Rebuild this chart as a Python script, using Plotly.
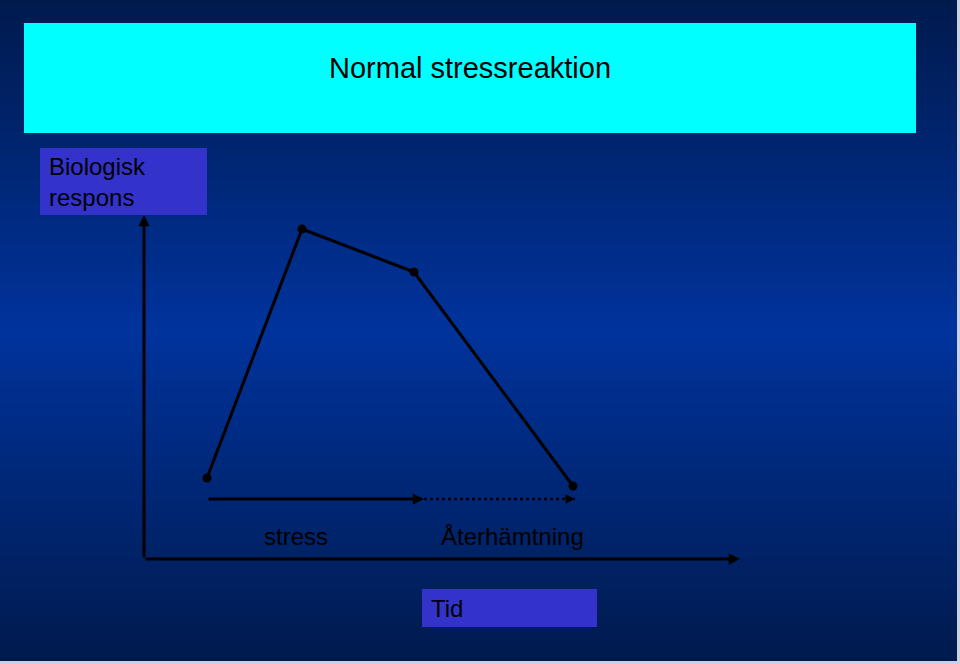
import plotly.graph_objects as go

# ---- data (arbitrary units) ----
phase_time = [6.3, 15.8, 27.0, 42.9]        # time of the four points
response = [8.1, 33.0, 28.7, 7.3]            # biological response
axis_x_end = 59.6                            # end of time axis arrow
axis_y_end = 34.4                            # end of response axis arrow
stress_span = [6.3, 28.0]                    # stress phase arrow
recovery_span = [28.0, 43.1]                 # recovery phase arrow
phase_arrow_level = 6.0
phase_labels = ["stress", "Återhämtning"]
phase_label_x = [15.2, 36.8]
phase_label_y = 2.3
title_text = "Normal stressreaktion"
y_label = "Biologisk<br>respons"
x_label = "Tid"

W, H = 960, 664
X0, Y0, SCALE = 144, 559, 10.0   # pixel origin of axes, px per unit


def px(x):
    return x / W


def py(y):
    return 1 - y / H


fig = go.Figure()

# main curve
fig.add_trace(go.Scatter(
    x=phase_time, y=response, mode="lines+markers",
    line=dict(color="black", width=3),
    marker=dict(color="black", size=9),
    hoverinfo="skip", showlegend=False))

# dotted recovery line
fig.add_trace(go.Scatter(
    x=recovery_span, y=[phase_arrow_level] * 2, mode="lines",
    line=dict(color="black", width=2.5, dash="dot"),
    hoverinfo="skip", showlegend=False))

shapes = []
# background gradient
top = (0, 26, 77)
mid = (0, 51, 156)
n = 166
for i in range(n):
    t = (i + 0.5) / n
    f = 1 - abs(t - 0.5) * 2
    c = tuple(top[k] + (mid[k] - top[k]) * f for k in range(3))
    y_a = 661 * i / n
    y_b = min(661, 661 * (i + 1) / n + 3)
    shapes.append(dict(type="rect", xref="paper", yref="paper",
                       x0=0, x1=px(957), y0=py(y_b), y1=py(y_a),
                       line=dict(width=0),
                       fillcolor="rgb(%.1f,%.1f,%.1f)" % c,
                       layer="below"))
# title box
shapes.append(dict(type="rect", xref="paper", yref="paper",
                   x0=px(24), x1=px(916), y0=py(133), y1=py(23),
                   line=dict(width=0), fillcolor="#00ffff", layer="below"))
# label boxes
shapes.append(dict(type="rect", xref="paper", yref="paper",
                   x0=px(40), x1=px(207), y0=py(215), y1=py(148),
                   line=dict(width=0), fillcolor="#3333cc", layer="below"))
shapes.append(dict(type="rect", xref="paper", yref="paper",
                   x0=px(422), x1=px(597), y0=py(627), y1=py(589),
                   line=dict(width=0), fillcolor="#3333cc", layer="below"))

font = dict(family="Liberation Sans, Arial, sans-serif", color="black")
ann = []
ann.append(dict(xref="paper", yref="paper", x=px(470), y=py(68),
                text=title_text, showarrow=False,
                font=dict(size=29, **font), xanchor="center", yanchor="middle"))
ann.append(dict(xref="paper", yref="paper", x=px(47), y=py(182),
                text=y_label, showarrow=False, align="left",
                font=dict(size=24, **font), xanchor="left", yanchor="middle"))
ann.append(dict(xref="paper", yref="paper", x=px(429), y=py(608),
                text=x_label, showarrow=False, align="left",
                font=dict(size=24, **font), xanchor="left", yanchor="middle"))
for lab, lx in zip(phase_labels, phase_label_x):
    ann.append(dict(x=lx, y=phase_label_y, text=lab, showarrow=False,
                    font=dict(size=24, **font), xanchor="center", yanchor="middle"))

arrow_common = dict(text="", showarrow=True, axref="x", ayref="y",
                    arrowhead=2, arrowsize=0.75, arrowcolor="black",
                    standoff=0, startstandoff=0)
# axes arrows
ann.append(dict(x=0, y=axis_y_end, ax=0, ay=0, arrowwidth=3, **arrow_common))
ann.append(dict(x=axis_x_end, y=0, ax=0, ay=0, arrowwidth=3, **arrow_common))
# stress arrow (solid)
ann.append(dict(x=stress_span[1], y=phase_arrow_level, ax=stress_span[0],
                ay=phase_arrow_level, arrowwidth=3, **arrow_common))
# recovery arrowhead
ann.append(dict(x=recovery_span[1], y=phase_arrow_level,
                ax=recovery_span[1] - 1.0, ay=phase_arrow_level,
                arrowwidth=2.5, **arrow_common))

fig.update_layout(
    width=W, height=H, margin=dict(l=0, r=0, t=0, b=0),
    paper_bgcolor="#c9d1e2", plot_bgcolor="rgba(0,0,0,0)",
    shapes=shapes, annotations=ann, showlegend=False,
    xaxis=dict(range=[-X0 / SCALE, (W - X0) / SCALE], visible=False, fixedrange=True),
    yaxis=dict(range=[-(H - Y0) / SCALE, Y0 / SCALE], visible=False, fixedrange=True),
)

fig.write_html("out.html", config={"displayModeBar": False},
               post_script="document.body.style.margin='0';document.body.style.overflow='hidden';")
